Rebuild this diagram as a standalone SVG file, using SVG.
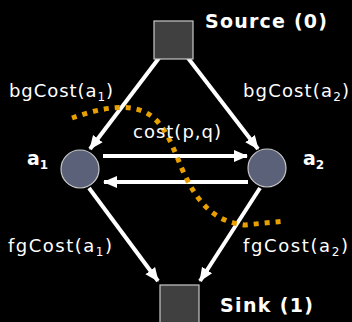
<svg xmlns="http://www.w3.org/2000/svg" width="352" height="322" viewBox="0 0 352 322">
<defs>
<marker id="ah" markerWidth="14" markerHeight="14" refX="13" refY="7" orient="auto" markerUnits="userSpaceOnUse">
<path d="M0,1 L14,7 L0,13 Z" fill="#fff"/>
</marker>
<style>
.t{font-family:"DejaVu Sans","Noto Sans",sans-serif;fill:#fff;font-size:18px}
.b{font-weight:bold;font-size:19px}
.e{stroke:#fff;stroke-width:4;fill:none;marker-end:url(#ah)}
.sq{fill:#404040;stroke:#c8c8c8;stroke-width:1.2}
.c{fill:#5b6178;stroke:#c8c8c8;stroke-width:1.2}
</style>
</defs>
<rect width="352" height="322" fill="#000"/>
<g id="connectors">
<line class="e" x1="159" y1="58" x2="90" y2="149"/>
<line class="e" x1="188" y1="58" x2="258" y2="149"/>
<line class="e" x1="89" y1="188" x2="158" y2="281"/>
<line class="e" x1="260" y1="188" x2="200" y2="281"/>
<line class="e" x1="103" y1="156" x2="247" y2="156"/>
<line class="e" x1="248" y1="182" x2="104" y2="182"/>
</g>
<g id="cut">
<path d="M72,118 C100,108 135,100 155,119 C172,135 178,165 190,185 C200,203 215,222 245,225 L285,221" fill="none" stroke="#E8A000" stroke-width="5" stroke-dasharray="5 6"/>
</g>
<g id="source"><rect class="sq" x="154" y="21" width="39" height="38"/><text class="t b" x="205" y="28" textLength="122">Source (0)</text></g>
<g id="sink"><rect class="sq" x="160" y="285" width="39" height="40"/><text class="t b" x="220" y="312" textLength="93">Sink (1)</text></g>
<g id="a1"><circle class="c" cx="80" cy="169" r="19"/><text class="t b" x="27" y="165">a<tspan font-size="12" dy="4">1</tspan></text></g>
<g id="a2"><circle class="c" cx="267" cy="168" r="19"/><text class="t b" x="303" y="165">a<tspan font-size="12" dy="4">2</tspan></text></g>
<g id="labels">
<text class="t" x="9" y="97" textLength="104">bgCost(a<tspan font-size="12" dy="4">1</tspan><tspan dy="-4">)</tspan></text>
<text class="t" x="243" y="97" textLength="106">bgCost(a<tspan font-size="12" dy="4">2</tspan><tspan dy="-4">)</tspan></text>
<text class="t" x="133" y="138" textLength="88">cost(p,q)</text>
<text class="t" x="8" y="252" textLength="104">fgCost(a<tspan font-size="12" dy="4">1</tspan><tspan dy="-4">)</tspan></text>
<text class="t" x="243" y="252" textLength="105">fgCost(a<tspan font-size="12" dy="4">2</tspan><tspan dy="-4">)</tspan></text>
</g>
</svg>
